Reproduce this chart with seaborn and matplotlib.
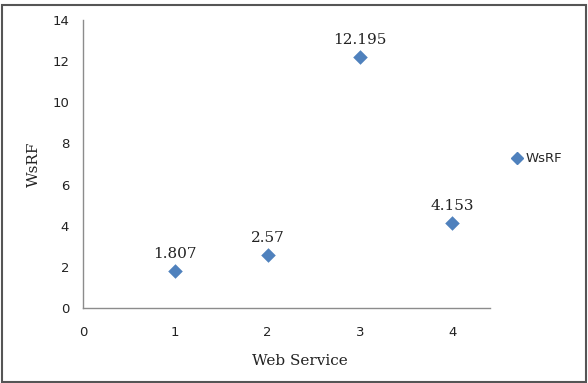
import matplotlib
matplotlib.use("Agg")
import matplotlib.pyplot as plt
import seaborn as sns
import pandas as pd
from matplotlib.patches import Rectangle
from matplotlib.lines import Line2D

services = [1, 2, 3, 4]
wsrf = [1.807, 2.57, 12.195, 4.153]
labels = ["1.807", "2.57", "12.195", "4.153"]
xticks = [0, 1, 2, 3, 4]
yticks = [0, 2, 4, 6, 8, 10, 12, 14]

df = pd.DataFrame({"Web Service": services, "WsRF": wsrf})

sns.set_style("white")
plt.rcParams["font.family"] = ["DejaVu Sans"]

fig = plt.figure(figsize=(5.88, 3.83), dpi=100)
ax = fig.add_axes([83 / 588, 1 - 308 / 383, (490 - 83) / 588, (308 - 20) / 383])

blue = "#4F81BD"
sns.scatterplot(data=df, x="Web Service", y="WsRF", marker="D", s=55,
                color=blue, edgecolor=blue, linewidth=0, ax=ax, legend=False)

for x, y, t in zip(services, wsrf, labels):
    ax.annotate(t, (x, y), xytext=(0, 7), textcoords="offset points",
                ha="center", va="bottom", fontsize=11,
                family="DejaVu Serif", color="#222222")

ax.set_xlim(0, 4.41)
ax.set_ylim(0, 14)
ax.set_xticks(xticks)
ax.set_yticks(yticks)
ax.tick_params(length=0, labelsize=9.5, colors="#222222")
ax.tick_params(axis="x", pad=13)
ax.tick_params(axis="y", pad=10)
for s in ["top", "right"]:
    ax.spines[s].set_visible(False)
for s in ["left", "bottom"]:
    ax.spines[s].set_color("#8c8c8c")
    ax.spines[s].set_linewidth(1.0)

ax.set_xlabel("Web Service", family="DejaVu Serif", fontsize=11,
              color="#222222")
ax.xaxis.set_label_coords(0.533, -0.16)
ax.set_ylabel("WsRF", family="DejaVu Serif", fontsize=11,
              color="#222222", labelpad=8)

h = Line2D([], [], marker="D", color=blue, linestyle="none", markersize=6)
fig.legend([h], ["WsRF"], loc="center left", bbox_to_anchor=(513 / 588, 1 - 159 / 383),
           frameon=False, fontsize=9.5, handlelength=0.6, handletextpad=0.35,
           borderpad=0, borderaxespad=0)

fig.patches.append(Rectangle((2 / 588, 1 / 383), 584 / 588, 377 / 383,
                             transform=fig.transFigure, fill=False,
                             edgecolor="#555555", linewidth=1.5))

fig.savefig("out.png", dpi=100)
